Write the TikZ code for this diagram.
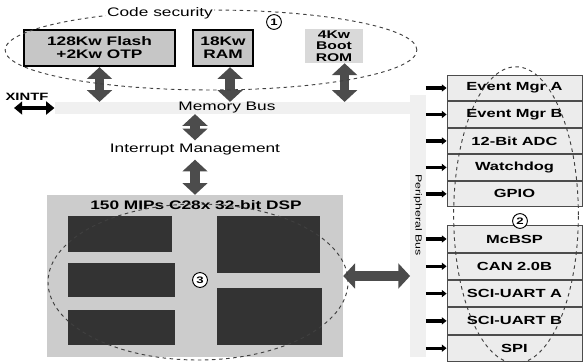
\documentclass[tikz,border=0pt]{standalone}
\usepackage{fontspec}
\setmainfont{Liberation Sans}[FakeStretch=1.4]
\usetikzlibrary{arrows.meta, positioning}

\begin{document}
\begin{tikzpicture}[x=0.85pt, y=-0.85pt,
    mem/.style={draw=black, line width=2pt, fill=gray!45, inner sep=0pt,
      font=\bfseries\fontsize{10.5}{11}\selectfont, align=center},
    rom/.style={fill=gray!30, inner sep=0pt,
      font=\bfseries\fontsize{9.5}{9.8}\selectfont, align=center},
    blk/.style={fill=black!80, inner sep=0pt},
    per/.style={draw=black!70, line width=0.8pt, fill=gray!15, inner sep=0pt,
      minimum width=114.7pt, font=\bfseries\fontsize{10}{10}\selectfont},
    bus/.style={fill=gray!12, inner sep=0pt},
    txt/.style={font=\fontsize{10.5}{11}\selectfont},
    num/.style={draw, circle, thick, inner sep=1.5pt, fill=white,
      font=\bfseries\fontsize{8}{8}\selectfont},
    fat/.style={{Triangle[width=21pt, length=10pt]}-{Triangle[width=21pt, length=10pt]},
      line width=8pt, black!70},
    xarr/.style={{Triangle[width=11pt, length=7pt]}-{Triangle[width=11pt, length=7pt]},
      line width=3.5pt, black},
    tick/.style={-{Triangle[width=6pt, length=4pt]}, line width=2.8pt},
    grp/.style={dashed, thick, black!75},
    node distance=0pt
  ]
    \useasboundingbox (0,0) rectangle (583,361);
    % buses
    \node[bus, minimum width=310pt, minimum height=10pt] (mbus) at (237,108) {};
    \node[bus, minimum width=13pt, minimum height=222pt] (pbus) at (418,226) {};
    \node[txt] (mbt) at (227,108) {Memory Bus};
    \node[txt, rotate=-90, font=\fontsize{7.5}{8}\selectfont] (pbt) at (418,215) {Peripheral Bus};
    % memories
    \node[mem, minimum width=128pt, minimum height=30.6pt] (flash) at (99.5,48) {128Kw Flash\\+2Kw OTP};
    \node[mem, minimum width=51pt, minimum height=30.6pt] (ram) at (223,48) {18Kw\\RAM};
    \node[rom, minimum width=50pt, minimum height=29pt] (rom) at (334,46) {4Kw\\Boot\\ROM};
    \node[num] (n1) at (274,22) {1};
    \node[txt, font=\bfseries\fontsize{9}{10}\selectfont] (xintf) at (27,97) {XINTF};
    \coordinate (xl) at (14,108);
    \node[txt] (intr) at (195,150) {Interrupt Management};
    % dsp core
    \node[fill=gray!40, minimum width=251.6pt, minimum height=137.7pt, inner sep=0pt] (dsp) at (195,276) {};
    \node[font=\bfseries\fontsize{10.5}{11}\selectfont] (dspt) at (196,205) {150 MIPs C28x 32-bit DSP};
    \node[blk, minimum width=88.4pt, minimum height=30.6pt] (l1) at (120,234) {};
    \node[blk, minimum width=91pt, minimum height=29pt] (l2) at (121.5,280) {};
    \node[blk, minimum width=91pt, minimum height=29.8pt] (l3) at (121.5,327.5) {};
    \node[blk, minimum width=87.6pt, minimum height=48.5pt] (r1) at (268.5,244.5) {};
    \node[blk, minimum width=89.3pt, minimum height=48.5pt] (r2) at (269.5,316.5) {};
    \node[num] (n3) at (200,280) {3};
    % peripherals
    \node[per, minimum height=21.7pt] (ea) at (514.5,88) {Event Mgr A};
    \node[per, minimum height=21.7pt, below=of ea] (eb) {Event Mgr B};
    \node[per, minimum height=21.7pt, below=of eb] (adc) {12-Bit ADC};
    \node[per, minimum height=21.7pt, below=of adc] (wd) {Watchdog};
    \node[per, minimum height=21.7pt, below=of wd] (gpio) {GPIO};
    \node[per, minimum height=22.4pt] (mcbsp) at (514.5,239) {McBSP};
    \node[per, minimum height=22.4pt, below=of mcbsp] (can) {CAN 2.0B};
    \node[per, minimum height=22.4pt, below=of can] (scia) {SCI-UART A};
    \node[per, minimum height=22.4pt, below=of scia] (scib) {SCI-UART B};
    \node[per, minimum height=22.4pt, below=of scib] (spi) {SPI};
    \node[num] (n2) at (520,221) {2};
    % connectors
    \draw[fat] (flash.south) -- (flash.south |- mbus.north);
    \draw[fat] ([xshift=6pt]ram.south) -- ([xshift=6pt]ram.south |- mbus.north);
    \draw[fat] ([xshift=9pt]rom.south) -- ([xshift=9pt]rom.south |- mbus.north);
    \draw[fat] (intr.north |- mbus.south) -- (intr.north);
    \draw[fat] (intr.south) -- (intr.south |- dsp.north);
    \draw[fat] (dsp.east) -- (dsp.east -| pbus.west);
    \draw[xarr] (xl) -- (mbus.west);
    \foreach \n in {ea,eb,adc,wd,gpio,mcbsp,can,scia,scib,spi}
      \draw[tick] (\n.west -| pbus.east) -- (\n.west);
    % groups
    \draw[grp] (211,50) ellipse [x radius=175pt, y radius=34pt];
    \node[txt, fill=white, inner sep=1pt] (cs) at (160,13) {Code security};
    \draw[grp] (198,282) ellipse [x radius=127.5pt, y radius=66.3pt];
    \draw[grp] (516,215) ellipse [x radius=53pt, y radius=126pt];
  \end{tikzpicture}
\end{document}
